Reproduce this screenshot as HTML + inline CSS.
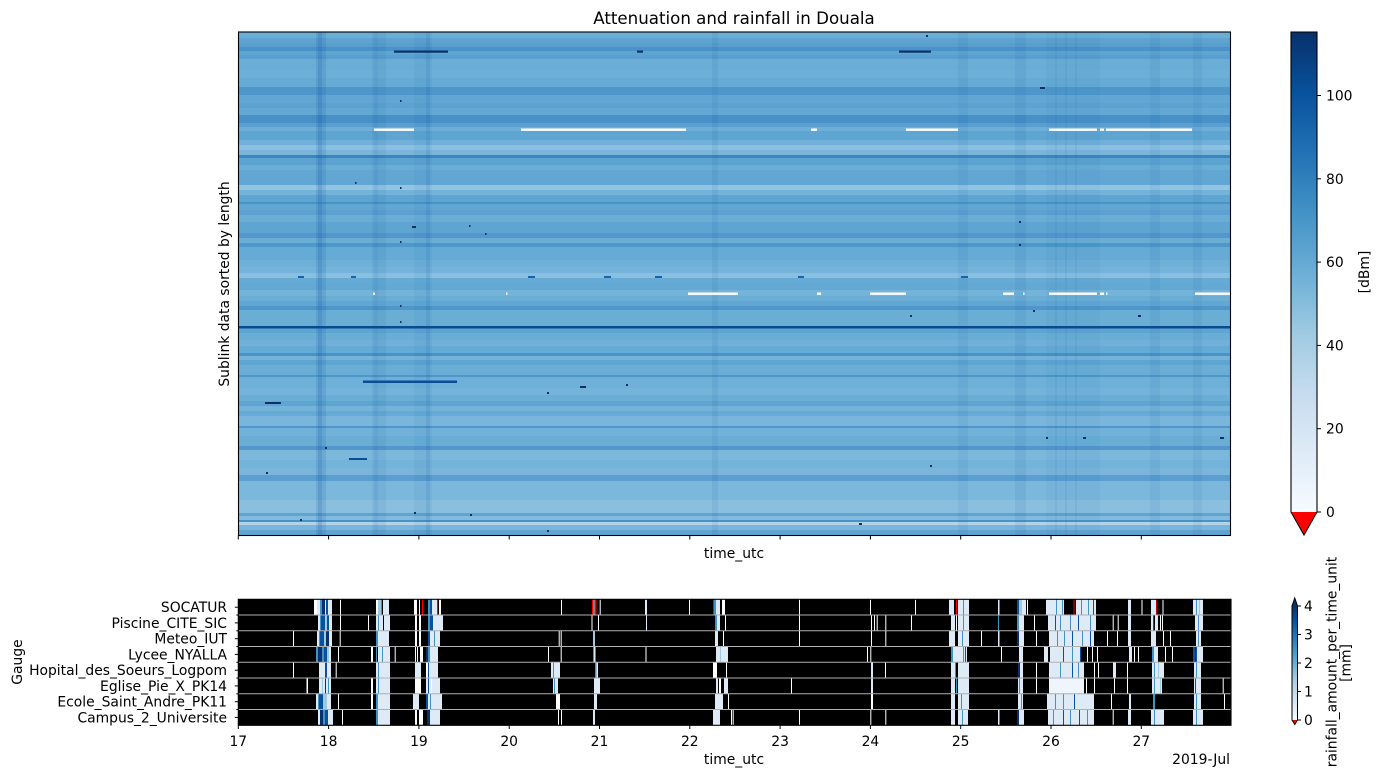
<!DOCTYPE html>
<html>
<head>
<meta charset="utf-8">
<style>
html,body{margin:0;padding:0;background:#fff;}
svg{display:block;}
.w{fill:#ffffff}.l{fill:#deebf7}.v{fill:#eef5fc}.m{fill:#9ecae1}.b{fill:#4292c6}.d{fill:#08519c}.n{fill:#08306b}.r{fill:#ff0000}
text{font-family:"DejaVu Sans","Liberation Sans",sans-serif;fill:#000;}
</style>
</head>
<body>
<svg width="1382" height="778" viewBox="0 0 1382 778" xmlns="http://www.w3.org/2000/svg" font-size="13.89">
<defs>
<linearGradient id="blues" x1="0" y1="1" x2="0" y2="0">
<stop offset="0" stop-color="#f7fbff"/>
<stop offset="0.125" stop-color="#deebf7"/>
<stop offset="0.25" stop-color="#c6dbef"/>
<stop offset="0.375" stop-color="#9ecae1"/>
<stop offset="0.5" stop-color="#6baed6"/>
<stop offset="0.625" stop-color="#4292c6"/>
<stop offset="0.75" stop-color="#2171b5"/>
<stop offset="0.875" stop-color="#08519c"/>
<stop offset="1" stop-color="#08306b"/>
</linearGradient>
</defs>
<rect width="1382" height="778" fill="#fff"/>
<text x="734" y="24" text-anchor="middle" font-size="16.67">Attenuation and rainfall in Douala</text>

<!-- TOP HEATMAP -->
<g>
<rect x="238.5" y="32" width="992" height="6" fill="#6aaed6"/>
<rect x="238.5" y="38" width="992" height="5" fill="#5fa3d0"/>
<rect x="238.5" y="43" width="992" height="4" fill="#5a9ecf"/>
<rect x="238.5" y="47" width="992" height="4" fill="#4a93c8"/>
<rect x="238.5" y="51" width="992" height="4" fill="#5fa5d2"/>
<rect x="238.5" y="55" width="992" height="4" fill="#5a9fd0"/>
<rect x="238.5" y="59" width="992" height="11" fill="#6aaed6"/>
<rect x="238.5" y="70" width="992" height="8" fill="#6cafd7"/>
<rect x="238.5" y="78" width="992" height="9" fill="#66abd5"/>
<rect x="238.5" y="87" width="992" height="8" fill="#4f97ca"/>
<rect x="238.5" y="95" width="992" height="8" fill="#62a7d4"/>
<rect x="238.5" y="103" width="992" height="5" fill="#5da3d1"/>
<rect x="238.5" y="108" width="992" height="7" fill="#64a9d4"/>
<rect x="238.5" y="115" width="992" height="8" fill="#4890c6"/>
<rect x="238.5" y="123" width="992" height="4" fill="#5a9fd0"/>
<rect x="238.5" y="127" width="992" height="4" fill="#6dafd8"/>
<rect x="238.5" y="131" width="992" height="9" fill="#5fa5d2"/>
<rect x="238.5" y="140" width="992" height="5" fill="#70b0d9"/>
<rect x="238.5" y="145" width="992" height="5" fill="#8dc0e0"/>
<rect x="238.5" y="150" width="992" height="5" fill="#7ab6db"/>
<rect x="238.5" y="155" width="992" height="3" fill="#3a87c0"/>
<rect x="238.5" y="158" width="992" height="7" fill="#5da3d1"/>
<rect x="238.5" y="165" width="992" height="5" fill="#6aaed6"/>
<rect x="238.5" y="170" width="992" height="15" fill="#62a7d4"/>
<rect x="238.5" y="185" width="992" height="5" fill="#93c4e2"/>
<rect x="238.5" y="190" width="992" height="5" fill="#74b3da"/>
<rect x="238.5" y="195" width="992" height="7" fill="#5fa5d2"/>
<rect x="238.5" y="202" width="992" height="2" fill="#4a93c8"/>
<rect x="238.5" y="204" width="992" height="6" fill="#62a7d4"/>
<rect x="238.5" y="210" width="992" height="5" fill="#5ca1d0"/>
<rect x="238.5" y="215" width="992" height="7" fill="#6aaed6"/>
<rect x="238.5" y="222" width="992" height="11" fill="#5fa5d2"/>
<rect x="238.5" y="233" width="992" height="5" fill="#5596cc"/>
<rect x="238.5" y="238" width="992" height="5" fill="#6aaed6"/>
<rect x="238.5" y="243" width="992" height="4" fill="#4e98ca"/>
<rect x="238.5" y="247" width="992" height="13" fill="#66abd5"/>
<rect x="238.5" y="260" width="992" height="7" fill="#6fb0d8"/>
<rect x="238.5" y="267" width="992" height="6" fill="#74b3da"/>
<rect x="238.5" y="273" width="992" height="5" fill="#8abfdf"/>
<rect x="238.5" y="278" width="992" height="5" fill="#66abd5"/>
<rect x="238.5" y="283" width="992" height="7" fill="#64a9d4"/>
<rect x="238.5" y="290" width="992" height="6" fill="#74b3da"/>
<rect x="238.5" y="296" width="992" height="5" fill="#6aaed6"/>
<rect x="238.5" y="301" width="992" height="5" fill="#62a7d4"/>
<rect x="238.5" y="306" width="992" height="4" fill="#4f97ca"/>
<rect x="238.5" y="310" width="992" height="16" fill="#6aaed6"/>
<rect x="238.5" y="326" width="992" height="2.5" fill="#0a4a90"/>
<rect x="238.5" y="328.5" width="992" height="4.5" fill="#5fa5d2"/>
<rect x="238.5" y="333" width="992" height="7" fill="#6aaed6"/>
<rect x="238.5" y="340" width="992" height="6" fill="#70b0d9"/>
<rect x="238.5" y="346" width="992" height="7" fill="#66abd5"/>
<rect x="238.5" y="353" width="992" height="3" fill="#4a93c8"/>
<rect x="238.5" y="356" width="992" height="4" fill="#75b4da"/>
<rect x="238.5" y="360" width="992" height="5" fill="#5fa5d2"/>
<rect x="238.5" y="365" width="992" height="10" fill="#6aaed6"/>
<rect x="238.5" y="375" width="992" height="2" fill="#4f97ca"/>
<rect x="238.5" y="377" width="992" height="11" fill="#6eb0d8"/>
<rect x="238.5" y="388" width="992" height="7" fill="#74b3da"/>
<rect x="238.5" y="395" width="992" height="6" fill="#6aaed6"/>
<rect x="238.5" y="401" width="992" height="5" fill="#5fa5d2"/>
<rect x="238.5" y="406" width="992" height="5" fill="#74b3da"/>
<rect x="238.5" y="411" width="992" height="5" fill="#66abd5"/>
<rect x="238.5" y="416" width="992" height="10" fill="#7ab6db"/>
<rect x="238.5" y="426" width="992" height="2" fill="#4f97ca"/>
<rect x="238.5" y="428" width="992" height="8" fill="#72b2d9"/>
<rect x="238.5" y="436" width="992" height="10" fill="#6aaed6"/>
<rect x="238.5" y="446" width="992" height="4" fill="#5596cc"/>
<rect x="238.5" y="450" width="992" height="10" fill="#7cb7dc"/>
<rect x="238.5" y="460" width="992" height="8" fill="#74b3da"/>
<rect x="238.5" y="468" width="992" height="7" fill="#7ab6db"/>
<rect x="238.5" y="475" width="992" height="6" fill="#5a9fd0"/>
<rect x="238.5" y="481" width="992" height="19" fill="#7cb7dc"/>
<rect x="238.5" y="500" width="992" height="13" fill="#8abfdf"/>
<rect x="238.5" y="513" width="992" height="3" fill="#5fa5d2"/>
<rect x="238.5" y="516" width="992" height="4" fill="#82bbdd"/>
<rect x="238.5" y="520" width="992" height="2" fill="#4a93c8"/>
<rect x="238.5" y="522" width="992" height="3" fill="#b3d3ea"/>
<rect x="238.5" y="525" width="992" height="5" fill="#7ab6db"/>
<rect x="238.5" y="530" width="992" height="5.5" fill="#5fa5d2"/>
</g>
<!-- rain bands (top) -->
<g fill="#08519c">
<rect x="316" y="32" width="10" height="503.5" opacity="0.13"/>
<rect x="318" y="32" width="4" height="503.5" opacity="0.15"/>
<rect x="372" y="32" width="14" height="503.5" opacity="0.07"/>
<rect x="374" y="32" width="4" height="503.5" opacity="0.07"/>
<rect x="414" y="32" width="18" height="503.5" opacity="0.05"/>
<rect x="426" y="32" width="4" height="503.5" opacity="0.11"/>
<rect x="712" y="32" width="6" height="503.5" opacity="0.08"/>
<rect x="958" y="32" width="10" height="503.5" opacity="0.07"/>
<rect x="1015" y="32" width="11" height="503.5" opacity="0.08"/>
<rect x="1046" y="32" width="54" height="503.5" opacity="0.04"/>
<rect x="1055" y="32" width="2" height="503.5" opacity="0.07"/>
<rect x="1065" y="32" width="2" height="503.5" opacity="0.07"/>
<rect x="1075" y="32" width="2" height="503.5" opacity="0.07"/>
<rect x="1150" y="32" width="10" height="503.5" opacity="0.07"/>
<rect x="1193" y="32" width="9" height="503.5" opacity="0.07"/>
</g>
<!-- white segments -->
<g fill="#ffffff">
<rect x="374" y="128.5" width="40" height="2.4"/>
<rect x="521" y="128.5" width="165" height="2.4"/>
<rect x="811" y="128.5" width="6" height="2.4"/>
<rect x="906" y="128.5" width="52" height="2.4"/>
<rect x="1049" y="128.5" width="48" height="2.4"/>
<rect x="1100" y="128.5" width="4" height="2.4"/>
<rect x="1106" y="128.5" width="86" height="2.4"/>
<rect x="373" y="292.5" width="2" height="2.4"/>
<rect x="506" y="292.5" width="1.5" height="2.4"/>
<rect x="688" y="292.5" width="50" height="2.4"/>
<rect x="817" y="292.5" width="4" height="2.4"/>
<rect x="870" y="292.5" width="36" height="2.4"/>
<rect x="1003" y="292.5" width="11" height="2.4"/>
<rect x="1023" y="292.5" width="1.5" height="2.4"/>
<rect x="1049" y="292.5" width="48" height="2.4"/>
<rect x="1100" y="292.5" width="4" height="2.4"/>
<rect x="1106" y="292.5" width="1.5" height="2.4"/>
<rect x="1195" y="292.5" width="35.5" height="2.4"/>
</g>
<!-- dark dashes -->
<g fill="#08306b">
<rect x="394" y="50.5" width="54" height="2.2"/>
<rect x="637" y="50.5" width="6" height="2.2"/>
<rect x="899" y="50.5" width="32" height="2.2"/>
<rect x="1040" y="87" width="5" height="2"/>
<rect x="363" y="380.5" width="94" height="2.5" fill="#0b4d95"/>
<rect x="265" y="402" width="16" height="2"/>
<rect x="349" y="458" width="18" height="2" fill="#0b4d95"/>
<rect x="298" y="276" width="6" height="2" fill="#1c62a8"/>
<rect x="351" y="276" width="5" height="2" fill="#1c62a8"/>
<rect x="528" y="276" width="7" height="2" fill="#1c62a8"/>
<rect x="604" y="276" width="7" height="2" fill="#1c62a8"/>
<rect x="655" y="276" width="7" height="2" fill="#1c62a8"/>
<rect x="798" y="276" width="6" height="2" fill="#1c62a8"/>
<rect x="961" y="276" width="7" height="2" fill="#1c62a8"/>
<rect x="412" y="226" width="4" height="2"/>
<rect x="400" y="100" width="1.5" height="2"/>
<rect x="355" y="182" width="1.5" height="2"/>
<rect x="400" y="187" width="1.5" height="2"/>
<rect x="469" y="225" width="1.5" height="2"/>
<rect x="485" y="233" width="1.5" height="2"/>
<rect x="400" y="241" width="1.5" height="2"/>
<rect x="400" y="305" width="1.5" height="2"/>
<rect x="400" y="321" width="1.5" height="2"/>
<rect x="580" y="386" width="6" height="2"/>
<rect x="626" y="384" width="2" height="2"/>
<rect x="547" y="392" width="2" height="2"/>
<rect x="1138" y="315" width="3" height="2"/>
<rect x="1033" y="310" width="2" height="2"/>
<rect x="910" y="315" width="2" height="2"/>
<rect x="1220" y="437" width="4" height="2"/>
<rect x="1083" y="437" width="3" height="2"/>
<rect x="1046" y="437" width="2" height="2"/>
<rect x="325" y="447" width="2" height="2"/>
<rect x="930" y="465" width="2" height="2"/>
<rect x="266" y="472" width="2" height="2"/>
<rect x="414" y="512" width="2" height="2"/>
<rect x="470" y="514" width="2" height="2"/>
<rect x="300" y="519" width="2" height="2"/>
<rect x="859" y="523" width="3" height="2"/>
<rect x="547" y="530" width="2" height="2"/>
<rect x="1019" y="221" width="2" height="2"/>
<rect x="1019" y="244" width="2" height="2"/>
<rect x="926" y="35" width="2" height="2"/>
</g>
<rect x="238.5" y="32" width="992" height="503.5" fill="none" stroke="#000" stroke-width="1.1"/>
<!-- top x ticks -->
<g stroke="#000" stroke-width="1">
<line x1="238.3" y1="535.5" x2="238.3" y2="539.5"/>
<line x1="328.6" y1="535.5" x2="328.6" y2="539.5"/>
<line x1="418.9" y1="535.5" x2="418.9" y2="539.5"/>
<line x1="509.2" y1="535.5" x2="509.2" y2="539.5"/>
<line x1="599.5" y1="535.5" x2="599.5" y2="539.5"/>
<line x1="689.8" y1="535.5" x2="689.8" y2="539.5"/>
<line x1="780.1" y1="535.5" x2="780.1" y2="539.5"/>
<line x1="870.4" y1="535.5" x2="870.4" y2="539.5"/>
<line x1="960.7" y1="535.5" x2="960.7" y2="539.5"/>
<line x1="1051" y1="535.5" x2="1051" y2="539.5"/>
<line x1="1141.3" y1="535.5" x2="1141.3" y2="539.5"/>
</g>
<text x="734" y="558" text-anchor="middle">time_utc</text>
<text transform="translate(229,284) rotate(-90)" text-anchor="middle">Sublink data sorted by length</text>

<!-- colorbar 1 -->
<rect x="1291" y="32" width="26" height="480" fill="url(#blues)"/>
<polygon points="1291,512 1317,512 1304,535" fill="#ff0000"/>
<polygon points="1291,32 1317,32 1317,512 1304,535 1291,512" fill="none" stroke="#000" stroke-width="1.1"/>
<g stroke="#000" stroke-width="1">
<line x1="1317" y1="512" x2="1321" y2="512"/>
<line x1="1317" y1="428.7" x2="1321" y2="428.7"/>
<line x1="1317" y1="345.4" x2="1321" y2="345.4"/>
<line x1="1317" y1="262.1" x2="1321" y2="262.1"/>
<line x1="1317" y1="178.8" x2="1321" y2="178.8"/>
<line x1="1317" y1="95.5" x2="1321" y2="95.5"/>
</g>
<text x="1326" y="517">0</text>
<text x="1326" y="433.7">20</text>
<text x="1326" y="350.4">40</text>
<text x="1326" y="267.1">60</text>
<text x="1326" y="183.8">80</text>
<text x="1326" y="100.5">100</text>
<text transform="translate(1369,272) rotate(-90)" text-anchor="middle">[dBm]</text>

<!-- BOTTOM PANEL -->
<rect x="238.3" y="599.3" width="992.7" height="126" fill="#000"/>
<g>
<!-- Row 0 SOCATUR -->
<g transform="translate(0,599.3)">
<rect class="w" x="314" width="3" height="15.75"/><rect class="l" x="317" width="3" height="15.75"/><rect class="b" x="320" width="2" height="15.75"/><rect class="n" x="322" width="3" height="15.75"/><rect class="l" x="325" width="1" height="15.75"/><rect class="d" x="326" width="2" height="15.75"/><rect class="l" x="328" width="4" height="15.75"/><rect class="w" x="340" width="1" height="15.75"/>
<rect class="w" x="376" width="2" height="15.75"/><rect class="m" x="378" width="3" height="15.75"/><rect class="b" x="381" width="1" height="15.75"/><rect class="l" x="383" width="6" height="15.75"/>
<rect class="w" x="414" width="3" height="15.75"/><rect class="w" x="419" width="1" height="15.75"/><rect class="r" x="422" width="1.2" height="15.75"/><rect class="b" x="428" width="2" height="15.75"/><rect class="d" x="430" width="2" height="15.75"/><rect class="l" x="432" width="5" height="15.75"/><rect class="r" x="437" width="1.2" height="15.75"/><rect class="w" x="439" width="2" height="15.75"/>
<rect class="w" x="561" width="1" height="15.75"/><rect class="r" x="592" width="1" height="15.75"/><rect class="w" x="593.5" width="1" height="15.75"/><rect class="r" x="595" width="1.5" height="15.75"/><rect class="w" x="599.7" width="1" height="15.75"/>
<rect class="l" x="645" width="2" height="15.75"/><rect class="w" x="689" width="1" height="15.75"/>
<rect class="r" x="713" width="1" height="15.75"/><rect class="b" x="714" width="2" height="15.75"/><rect class="l" x="716" width="4" height="15.75"/><rect class="w" x="722" width="3" height="15.75"/>
<rect class="w" x="799" width="1" height="15.75"/><rect class="w" x="870" width="1" height="15.75"/><rect class="w" x="915" width="1" height="15.75"/>
<rect class="l" x="949" width="5" height="15.75"/><rect class="r" x="956" width="1" height="15.75"/><rect class="l" x="958" width="11" height="15.75"/><rect class="b" x="963" width="1" height="15.75"/>
<rect class="l" x="998" width="1.5" height="15.75"/><rect class="d" x="1017" width="2" height="15.75"/><rect class="m" x="1019" width="3" height="15.75"/><rect class="l" x="1022" width="4" height="15.75"/><rect class="w" x="1027" width="1" height="15.75"/>
<rect class="l" x="1046" width="18" height="15.75"/><rect class="b" x="1056" width="1" height="15.75"/><rect class="b" x="1062" width="1" height="15.75"/><rect class="r" x="1073.5" width="1" height="15.75"/><rect class="l" x="1076" width="20" height="15.75"/><rect class="b" x="1081" width="1" height="15.75"/><rect class="b" x="1088" width="1" height="15.75"/><rect class="d" x="1093" width="1" height="15.75"/>
<rect class="l" x="1128" width="3" height="15.75"/><rect class="w" x="1141.5" width="1" height="15.75"/><rect class="l" x="1151" width="5" height="15.75"/><rect class="r" x="1156.3" width="1" height="15.75"/><rect class="w" x="1162.5" width="1" height="15.75"/>
<rect class="l" x="1193" width="10" height="15.75"/><rect class="b" x="1196" width="1" height="15.75"/><rect class="m" x="1199" width="1" height="15.75"/>
</g>
<!-- Row 1 Piscine -->
<g transform="translate(0,615.05)">
<rect class="l" x="318" width="2" height="15.75"/><rect class="b" x="320" width="1" height="15.75"/><rect class="d" x="321" width="4" height="15.75"/><rect class="m" x="325" width="2" height="15.75"/><rect class="d" x="327" width="2" height="15.75"/><rect class="l" x="329" width="3" height="15.75"/><rect class="w" x="340" width="1" height="15.75"/>
<rect class="w" x="368" width="1" height="15.75"/><rect class="l" x="376" width="2" height="15.75"/><rect class="b" x="378" width="1" height="15.75"/><rect class="l" x="379" width="4" height="15.75"/><rect class="l" x="384" width="6" height="15.75"/>
<rect class="w" x="415" width="2" height="15.75"/><rect class="w" x="419" width="2" height="15.75"/><rect class="b" x="428" width="2" height="15.75"/><rect class="d" x="430" width="3" height="15.75"/><rect class="l" x="433" width="10" height="15.75"/>
<rect class="w" x="591.5" width="1" height="15.75"/><rect class="w" x="598" width="1" height="15.75"/><rect class="l" x="646" width="1" height="15.75"/>
<rect class="b" x="715" width="2" height="15.75"/><rect class="l" x="717" width="3" height="15.75"/><rect class="w" x="725" width="1" height="15.75"/>
<rect class="w" x="799" width="1" height="15.75"/><rect class="w" x="871" width="1" height="15.75"/><rect class="w" x="874" width="1" height="15.75"/><rect class="w" x="876.7" width="1" height="15.75"/><rect class="w" x="885.3" width="1" height="15.75"/><rect class="w" x="911" width="1" height="15.75"/>
<rect class="l" x="951" width="4" height="15.75"/><rect class="w" x="956" width="1" height="15.75"/><rect class="l" x="958" width="11" height="15.75"/><rect class="b" x="963" width="1" height="15.75"/>
<rect class="b" x="998" width="1" height="15.75"/><rect class="b" x="1017" width="2" height="15.75"/><rect class="l" x="1019" width="5" height="15.75"/><rect class="w" x="1034" width="1" height="15.75"/>
<rect class="l" x="1048" width="48" height="15.75"/><rect class="d" x="1055" width="1" height="15.75"/><rect class="b" x="1060" width="1" height="15.75"/><rect class="b" x="1070" width="1" height="15.75"/><rect class="d" x="1078" width="1" height="15.75"/><rect class="b" x="1090" width="1" height="15.75"/>
<rect class="w" x="1112.7" width="1" height="15.75"/><rect class="w" x="1117.7" width="1" height="15.75"/><rect class="l" x="1128" width="3" height="15.75"/>
<rect class="l" x="1151" width="2" height="15.75"/><rect class="d" x="1153" width="1" height="15.75"/><rect class="l" x="1155" width="3" height="15.75"/><rect class="w" x="1160" width="1" height="15.75"/><rect class="w" x="1162" width="1" height="15.75"/>
<rect class="l" x="1195" width="8" height="15.75"/><rect class="b" x="1198" width="1" height="15.75"/>
</g>
<!-- Row 2 Meteo -->
<g transform="translate(0,630.8)">
<rect class="w" x="293" width="1" height="15.75"/>
<rect class="l" x="317" width="2" height="15.75"/><rect class="b" x="319" width="1" height="15.75"/><rect class="d" x="320" width="4" height="15.75"/><rect class="m" x="324" width="2" height="15.75"/><rect class="n" x="326" width="3" height="15.75"/><rect class="l" x="329" width="3" height="15.75"/><rect class="w" x="339.7" width="1" height="15.75"/>
<rect class="b" x="376" width="2" height="15.75"/><rect class="l" x="378" width="11" height="15.75"/>
<rect class="w" x="415" width="2" height="15.75"/><rect class="w" x="419" width="2" height="15.75"/><rect class="d" x="428" width="2" height="15.75"/><rect class="l" x="430" width="10" height="15.75"/><rect class="b" x="434" width="1" height="15.75"/>
<rect class="w" x="558.7" width="1" height="15.75"/><rect class="w" x="560.7" width="1" height="15.75"/><rect class="m" x="593" width="2" height="15.75"/>
<rect class="l" x="715" width="3" height="15.75"/><rect class="w" x="723" width="1" height="15.75"/>
<rect class="w" x="799" width="1" height="15.75"/><rect class="w" x="871" width="1" height="15.75"/><rect class="w" x="885.3" width="1" height="15.75"/>
<rect class="l" x="949" width="6" height="15.75"/><rect class="l" x="958" width="11" height="15.75"/><rect class="b" x="962" width="1" height="15.75"/><rect class="w" x="981" width="1" height="15.75"/>
<rect class="l" x="998" width="1.5" height="15.75"/><rect class="n" x="1017" width="2" height="15.75"/><rect class="l" x="1019" width="5" height="15.75"/><rect class="w" x="1036" width="1" height="15.75"/>
<rect class="l" x="1049" width="45" height="15.75"/><rect class="b" x="1057" width="1" height="15.75"/><rect class="b" x="1064" width="1" height="15.75"/><rect class="d" x="1072" width="1" height="15.75"/><rect class="b" x="1082" width="1" height="15.75"/><rect class="d" x="1090" width="1" height="15.75"/>
<rect class="w" x="1107" width="1" height="15.75"/><rect class="w" x="1117" width="1" height="15.75"/><rect class="l" x="1128" width="3" height="15.75"/><rect class="l" x="1151" width="5" height="15.75"/><rect class="w" x="1163" width="1" height="15.75"/><rect class="w" x="1170" width="1" height="15.75"/>
<rect class="l" x="1196" width="5" height="15.75"/><rect class="b" x="1198" width="1" height="15.75"/>
</g>
<!-- Row 3 Lycee -->
<g transform="translate(0,646.55)">
<rect class="b" x="316" width="2" height="15.75"/><rect class="n" x="318" width="4" height="15.75"/><rect class="b" x="322" width="2" height="15.75"/><rect class="d" x="324" width="3" height="15.75"/><rect class="m" x="327" width="2" height="15.75"/><rect class="l" x="329" width="2" height="15.75"/><rect class="w" x="338" width="1" height="15.75"/>
<rect class="w" x="371" width="2" height="15.75"/><rect class="b" x="376" width="1" height="15.75"/><rect class="l" x="378" width="12" height="15.75"/><rect class="b" x="382" width="1" height="15.75"/><rect class="w" x="394.7" width="1" height="15.75"/>
<rect class="w" x="415" width="1" height="15.75"/><rect class="w" x="417" width="1" height="15.75"/><rect class="w" x="420" width="3" height="15.75"/><rect class="n" x="426" width="2" height="15.75"/><rect class="b" x="428" width="2" height="15.75"/><rect class="l" x="430" width="8" height="15.75"/>
<rect class="w" x="548" width="1" height="15.75"/><rect class="w" x="560.7" width="1" height="15.75"/><rect class="b" x="593" width="1" height="15.75"/><rect class="l" x="594" width="1.5" height="15.75"/><rect class="w" x="645.5" width="1" height="15.75"/>
<rect class="l" x="716" width="12" height="15.75"/><rect class="m" x="720" width="1" height="15.75"/>
<rect class="w" x="867" width="1" height="15.75"/><rect class="w" x="870.3" width="1" height="15.75"/>
<rect class="b" x="951" width="2" height="15.75"/><rect class="l" x="953" width="14" height="15.75"/><rect class="b" x="963" width="1" height="15.75"/><rect class="d" x="965" width="1" height="15.75"/>
<rect class="w" x="1001" width="1" height="15.75"/><rect class="l" x="1019" width="4" height="15.75"/>
<rect class="l" x="1044" width="4" height="15.75"/><rect class="l" x="1050" width="31" height="15.75"/><rect class="d" x="1063" width="1" height="15.75"/><rect class="b" x="1072" width="1" height="15.75"/><rect class="d" x="1080" width="1" height="15.75"/>
<rect class="w" x="1087" width="1" height="15.75"/><rect class="w" x="1092" width="1" height="15.75"/><rect class="w" x="1097" width="1" height="15.75"/>
<rect class="l" x="1129" width="3" height="15.75"/><rect class="w" x="1134" width="1" height="15.75"/><rect class="w" x="1138" width="1" height="15.75"/>
<rect class="b" x="1152" width="2" height="15.75"/><rect class="l" x="1154" width="4" height="15.75"/><rect class="w" x="1165" width="1" height="15.75"/><rect class="w" x="1172" width="1" height="15.75"/>
<rect class="d" x="1193" width="4" height="15.75"/><rect class="n" x="1195" width="1" height="15.75"/><rect class="l" x="1197" width="6" height="15.75"/>
</g>
<!-- Row 4 Hopital -->
<g transform="translate(0,662.3)">
<rect class="w" x="293" width="1" height="15.75"/>
<rect class="l" x="319" width="6" height="15.75"/><rect class="d" x="325" width="2" height="15.75"/><rect class="l" x="327" width="4" height="15.75"/><rect class="w" x="335.7" width="1" height="15.75"/>
<rect class="l" x="376" width="2" height="15.75"/><rect class="b" x="378" width="1" height="15.75"/><rect class="l" x="379" width="11" height="15.75"/>
<rect class="l" x="415" width="6" height="15.75"/><rect class="w" x="426" width="2" height="15.75"/><rect class="d" x="428" width="1" height="15.75"/><rect class="l" x="429" width="9" height="15.75"/>
<rect class="l" x="551" width="9" height="15.75"/><rect class="b" x="553" width="1" height="15.75"/>
<rect class="b" x="595" width="1.5" height="15.75"/><rect class="l" x="596.5" width="1.5" height="15.75"/>
<rect class="w" x="713" width="4" height="15.75"/><rect class="w" x="726" width="1" height="15.75"/>
<rect class="l" x="871" width="2" height="15.75"/><rect class="w" x="885" width="1" height="15.75"/>
<rect class="l" x="951" width="4" height="15.75"/><rect class="b" x="955" width="1" height="15.75"/><rect class="l" x="958" width="11" height="15.75"/>
<rect class="n" x="1018" width="2" height="15.75"/><rect class="l" x="1020" width="3" height="15.75"/><rect class="w" x="1036" width="1" height="15.75"/>
<rect class="l" x="1049" width="35" height="15.75"/><rect class="b" x="1060" width="1" height="15.75"/><rect class="d" x="1072" width="1" height="15.75"/><rect class="b" x="1078" width="1" height="15.75"/>
<rect class="w" x="1094" width="1" height="15.75"/><rect class="w" x="1098" width="1" height="15.75"/><rect class="l" x="1113" width="3" height="15.75"/><rect class="w" x="1127" width="1" height="15.75"/>
<rect class="l" x="1152" width="12" height="15.75"/><rect class="b" x="1154" width="1" height="15.75"/><rect class="m" x="1158" width="1" height="15.75"/>
<rect class="l" x="1194" width="7" height="15.75"/><rect class="b" x="1196" width="1" height="15.75"/>
</g>
<!-- Row 5 Eglise -->
<g transform="translate(0,678.05)">
<rect class="w" x="306.5" width="1.5" height="15.75"/>
<rect class="l" x="319" width="12" height="15.75"/><rect class="m" x="322" width="1" height="15.75"/><rect class="n" x="325" width="1" height="15.75"/><rect class="b" x="328" width="1" height="15.75"/>
<rect class="w" x="371" width="2" height="15.75"/><rect class="l" x="376" width="14" height="15.75"/><rect class="b" x="378" width="1" height="15.75"/>
<rect class="w" x="415" width="6" height="15.75"/><rect class="l" x="426" width="14" height="15.75"/><rect class="d" x="428" width="1" height="15.75"/><rect class="w" x="431" width="1" height="15.75"/>
<rect class="l" x="553" width="5" height="15.75"/><rect class="b" x="554" width="1" height="15.75"/>
<rect class="l" x="594" width="6" height="15.75"/>
<rect class="l" x="716" width="2" height="15.75"/><rect class="w" x="719" width="2" height="15.75"/><rect class="l" x="724" width="4" height="15.75"/>
<rect class="w" x="791" width="1" height="15.75"/><rect class="l" x="871" width="2" height="15.75"/>
<rect class="l" x="951" width="4" height="15.75"/><rect class="b" x="956" width="1" height="15.75"/><rect class="l" x="958" width="11" height="15.75"/>
<rect class="l" x="1018" width="5" height="15.75"/><rect class="b" x="1019" width="1" height="15.75"/><rect class="w" x="1036" width="1" height="15.75"/>
<rect class="v" x="1049" width="35" height="15.75"/><rect class="w" x="1086" width="1" height="15.75"/><rect class="w" x="1094" width="1" height="15.75"/><rect class="w" x="1114" width="1" height="15.75"/><rect class="w" x="1127" width="1" height="15.75"/>
<rect class="l" x="1152" width="10" height="15.75"/><rect class="b" x="1154" width="1" height="15.75"/><rect class="m" x="1160" width="1" height="15.75"/>
<rect class="l" x="1194" width="7" height="15.75"/><rect class="d" x="1195" width="1" height="15.75"/><rect class="w" x="1222.7" width="1" height="15.75"/>
</g>
<!-- Row 6 Ecole -->
<g transform="translate(0,693.8)">
<rect class="l" x="316" width="2" height="15.75"/><rect class="b" x="318" width="1" height="15.75"/><rect class="d" x="319" width="4" height="15.75"/><rect class="m" x="323" width="4" height="15.75"/><rect class="l" x="327" width="4" height="15.75"/><rect class="w" x="338" width="1" height="15.75"/>
<rect class="w" x="371" width="2" height="15.75"/><rect class="b" x="376" width="2" height="15.75"/><rect class="l" x="378" width="12" height="15.75"/>
<rect class="l" x="413" width="6" height="15.75"/><rect class="d" x="426" width="2" height="15.75"/><rect class="l" x="428" width="14" height="15.75"/><rect class="b" x="430" width="1" height="15.75"/>
<rect class="w" x="556" width="4" height="15.75"/><rect class="l" x="594" width="3" height="15.75"/>
<rect class="l" x="715" width="8" height="15.75"/><rect class="w" x="728" width="1" height="15.75"/>
<rect class="w" x="871" width="2" height="15.75"/>
<rect class="l" x="951" width="4" height="15.75"/><rect class="l" x="958" width="11" height="15.75"/><rect class="b" x="961" width="1" height="15.75"/>
<rect class="l" x="1018" width="5" height="15.75"/><rect class="b" x="1021" width="1" height="15.75"/>
<rect class="l" x="1047" width="47" height="15.75"/><rect class="b" x="1055" width="1" height="15.75"/><rect class="b" x="1063" width="1" height="15.75"/><rect class="d" x="1074" width="1" height="15.75"/>
<rect class="w" x="1111" width="1" height="15.75"/><rect class="l" x="1129" width="2" height="15.75"/><rect class="b" x="1153" width="2" height="15.75"/>
<rect class="l" x="1194" width="7" height="15.75"/><rect class="b" x="1196" width="1" height="15.75"/><rect class="w" x="1224" width="1" height="15.75"/>
</g>
<!-- Row 7 Campus -->
<g transform="translate(0,709.55)">
<rect class="l" x="318" width="2" height="15.75"/><rect class="n" x="320" width="3" height="15.75"/><rect class="b" x="323" width="2" height="15.75"/><rect class="d" x="325" width="3" height="15.75"/><rect class="l" x="328" width="5" height="15.75"/><rect class="w" x="342" width="1" height="15.75"/>
<rect class="b" x="376" width="2" height="15.75"/><rect class="l" x="378" width="12" height="15.75"/>
<rect class="w" x="415" width="2" height="15.75"/><rect class="w" x="419" width="4" height="15.75"/><rect class="n" x="427" width="3" height="15.75"/><rect class="l" x="430" width="10" height="15.75"/>
<rect class="w" x="558" width="1" height="15.75"/><rect class="w" x="561" width="1" height="15.75"/><rect class="l" x="593" width="2" height="15.75"/>
<rect class="l" x="713" width="7" height="15.75"/><rect class="w" x="731" width="1" height="15.75"/>
<rect class="w" x="732.7" width="1" height="15.75"/><rect class="w" x="799" width="1" height="15.75"/><rect class="w" x="870.3" width="1" height="15.75"/><rect class="w" x="885.3" width="1" height="15.75"/>
<rect class="l" x="951" width="4" height="15.75"/><rect class="l" x="958" width="10" height="15.75"/><rect class="b" x="962" width="1" height="15.75"/>
<rect class="l" x="998" width="1.5" height="15.75"/><rect class="n" x="1017" width="2" height="15.75"/><rect class="l" x="1019" width="5" height="15.75"/>
<rect class="l" x="1048" width="46" height="15.75"/><rect class="b" x="1053" width="1" height="15.75"/><rect class="d" x="1063" width="1" height="15.75"/><rect class="b" x="1070" width="1" height="15.75"/><rect class="d" x="1079" width="1" height="15.75"/><rect class="b" x="1087" width="1" height="15.75"/>
<rect class="w" x="1112.7" width="1" height="15.75"/><rect class="l" x="1128" width="3" height="15.75"/>
<rect class="l" x="1151" width="13" height="15.75"/><rect class="b" x="1154" width="1" height="15.75"/>
<rect class="l" x="1193" width="10" height="15.75"/><rect class="b" x="1196" width="1" height="15.75"/>
</g>
</g>
<!-- gridlines -->
<g stroke="#b0b0b0" stroke-width="1">
<line x1="238.3" y1="615.05" x2="1231" y2="615.05"/>
<line x1="238.3" y1="630.8" x2="1231" y2="630.8"/>
<line x1="238.3" y1="646.55" x2="1231" y2="646.55"/>
<line x1="238.3" y1="662.3" x2="1231" y2="662.3"/>
<line x1="238.3" y1="678.05" x2="1231" y2="678.05"/>
<line x1="238.3" y1="693.8" x2="1231" y2="693.8"/>
<line x1="238.3" y1="709.55" x2="1231" y2="709.55"/>
</g>
<rect x="238.3" y="599.3" width="992.7" height="126" fill="none" stroke="#000" stroke-width="1.1"/>
<!-- y ticks bottom -->
<g stroke="#000" stroke-width="1">
<line x1="234.8" y1="607.2" x2="238.3" y2="607.2"/>
<line x1="234.8" y1="622.9" x2="238.3" y2="622.9"/>
<line x1="234.8" y1="638.7" x2="238.3" y2="638.7"/>
<line x1="234.8" y1="654.4" x2="238.3" y2="654.4"/>
<line x1="234.8" y1="670.2" x2="238.3" y2="670.2"/>
<line x1="234.8" y1="685.9" x2="238.3" y2="685.9"/>
<line x1="234.8" y1="701.7" x2="238.3" y2="701.7"/>
<line x1="234.8" y1="717.4" x2="238.3" y2="717.4"/>
<line x1="236.3" y1="615.05" x2="238.3" y2="615.05"/>
<line x1="236.3" y1="630.8" x2="238.3" y2="630.8"/>
<line x1="236.3" y1="646.55" x2="238.3" y2="646.55"/>
<line x1="236.3" y1="662.3" x2="238.3" y2="662.3"/>
<line x1="236.3" y1="678.05" x2="238.3" y2="678.05"/>
<line x1="236.3" y1="693.8" x2="238.3" y2="693.8"/>
<line x1="236.3" y1="709.55" x2="238.3" y2="709.55"/>
</g>
<g text-anchor="end">
<text x="227" y="612.2">SOCATUR</text>
<text x="227" y="627.9">Piscine_CITE_SIC</text>
<text x="227" y="643.7">Meteo_IUT</text>
<text x="227" y="659.4">Lycee_NYALLA</text>
<text x="227" y="675.2">Hopital_des_Soeurs_Logpom</text>
<text x="227" y="690.9">Eglise_Pie_X_PK14</text>
<text x="227" y="706.7">Ecole_Saint_Andre_PK11</text>
<text x="227" y="722.4">Campus_2_Universite</text>
</g>
<text transform="translate(22,662) rotate(-90)" text-anchor="middle">Gauge</text>
<!-- bottom x ticks -->
<g stroke="#000" stroke-width="1">
<line x1="238.3" y1="725.3" x2="238.3" y2="729"/>
<line x1="328.6" y1="725.3" x2="328.6" y2="729"/>
<line x1="418.9" y1="725.3" x2="418.9" y2="729"/>
<line x1="509.2" y1="725.3" x2="509.2" y2="729"/>
<line x1="599.5" y1="725.3" x2="599.5" y2="729"/>
<line x1="689.8" y1="725.3" x2="689.8" y2="729"/>
<line x1="780.1" y1="725.3" x2="780.1" y2="729"/>
<line x1="870.4" y1="725.3" x2="870.4" y2="729"/>
<line x1="960.7" y1="725.3" x2="960.7" y2="729"/>
<line x1="1051" y1="725.3" x2="1051" y2="729"/>
<line x1="1141.3" y1="725.3" x2="1141.3" y2="729"/>
</g>
<g text-anchor="middle">
<text x="238.3" y="746">17</text>
<text x="328.6" y="746">18</text>
<text x="418.9" y="746">19</text>
<text x="509.2" y="746">20</text>
<text x="599.5" y="746">21</text>
<text x="689.8" y="746">22</text>
<text x="780.1" y="746">23</text>
<text x="870.4" y="746">24</text>
<text x="960.7" y="746">25</text>
<text x="1051" y="746">26</text>
<text x="1141.3" y="746">27</text>
<text x="734" y="764">time_utc</text>
</g>
<text x="1230" y="764" text-anchor="end">2019-Jul</text>

<!-- colorbar 2 -->
<rect x="1292" y="606" width="5.5" height="114" fill="url(#blues)"/>
<polygon points="1292,606 1297.5,606 1294.75,598" fill="#08306b"/>
<polygon points="1292,720 1297.5,720 1294.75,724.5" fill="#ff0000"/>
<polygon points="1292,606 1294.75,598 1297.5,606 1297.5,720 1294.75,724.5 1292,720" fill="none" stroke="#000" stroke-width="1"/>
<g stroke="#000" stroke-width="1">
<line x1="1297.5" y1="606" x2="1301" y2="606"/>
<line x1="1297.5" y1="634.5" x2="1301" y2="634.5"/>
<line x1="1297.5" y1="663" x2="1301" y2="663"/>
<line x1="1297.5" y1="691.5" x2="1301" y2="691.5"/>
<line x1="1297.5" y1="720" x2="1301" y2="720"/>
</g>
<text x="1304" y="611">4</text>
<text x="1304" y="639.5">3</text>
<text x="1304" y="668">2</text>
<text x="1304" y="696.5">1</text>
<text x="1304" y="725">0</text>
<text transform="translate(1336.5,662) rotate(-90)" text-anchor="middle">rainfall_amount_per_time_unit</text>
<text transform="translate(1350.5,663) rotate(-90)" text-anchor="middle">[mm]</text>
</svg>
</body>
</html>
